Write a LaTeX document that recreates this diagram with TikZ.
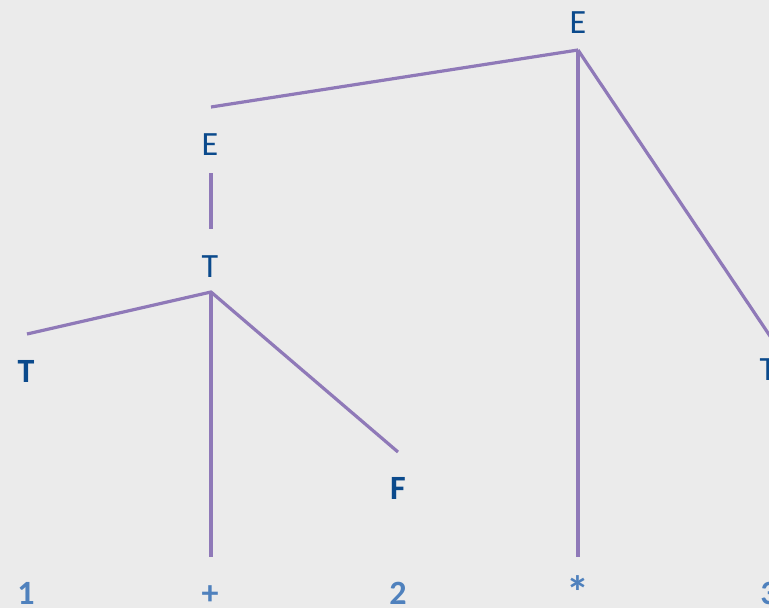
\documentclass[tikz,border=0pt]{standalone}
\usepackage{fontspec}
\setmainfont{Carlito}
\definecolor{bgc}{HTML}{EBEBEB}
\definecolor{nodeblue}{HTML}{0B4A8C}
\definecolor{leafblue}{HTML}{4F81BD}
\definecolor{edgec}{HTML}{8F79B8}
\begin{document}
\begin{tikzpicture}[x=1pt,y=-1pt,
  lab/.style={inner sep=0pt,anchor=base,font=\fontsize{34}{40}\selectfont,text=nodeblue},
  blab/.style={lab,font=\fontsize{34}{40}\selectfont\bfseries},
  leaf/.style={lab,font=\fontsize{34}{40}\selectfont\bfseries,text=leafblue},
  edge/.style={draw=edgec,line width=3.2pt}]
\fill[bgc] (0,0) rectangle (769,608);
\useasboundingbox (0,0) rectangle (769,608);
\clip (0,0) rectangle (769,608);
% nodes
\node[lab]  (E1) at (578,33) {E};
\node[lab]  (E2) at (210,155) {E};
\node[lab]  (T1) at (210,277) {T};
\node[blab] (T2) at (26,382) {T};
\node[blab] (F)  at (398,499) {F};
\node[lab]  (T3) at (768,380) {T};
\node[leaf] (n1) at (26,604) {1};
\node[leaf] (np) at (210,604) {+};
\node[leaf] (n2) at (398,604) {2};
\node[leaf,font=\fontsize{46}{50}\selectfont\bfseries] (ns) at (578,608) {*};
\node[leaf] (n3) at (769,604) {3};
% connector ends
\coordinate (jE1) at (578,50);
\coordinate (eE2) at (211,107);
\coordinate (eE2b) at (211,173);
\coordinate (eT1) at (211,229);
\coordinate (jT1) at (211,292);
\coordinate (eT2) at (27,334);
\coordinate (eF) at (398,452);
\coordinate (ep) at (211,557);
\coordinate (es) at (578,557);
\coordinate (eT3) at (772,339);
% connectors
\draw[edge] (eE2) -- (jE1);
\draw[edge] (jE1) -- (es);
\draw[edge] (jE1) -- (eT3);
\draw[edge] (eE2b) -- (eT1);
\draw[edge] (eT2) -- (jT1) -- (eF);
\draw[edge] (jT1) -- (ep);
\end{tikzpicture}
\end{document}
